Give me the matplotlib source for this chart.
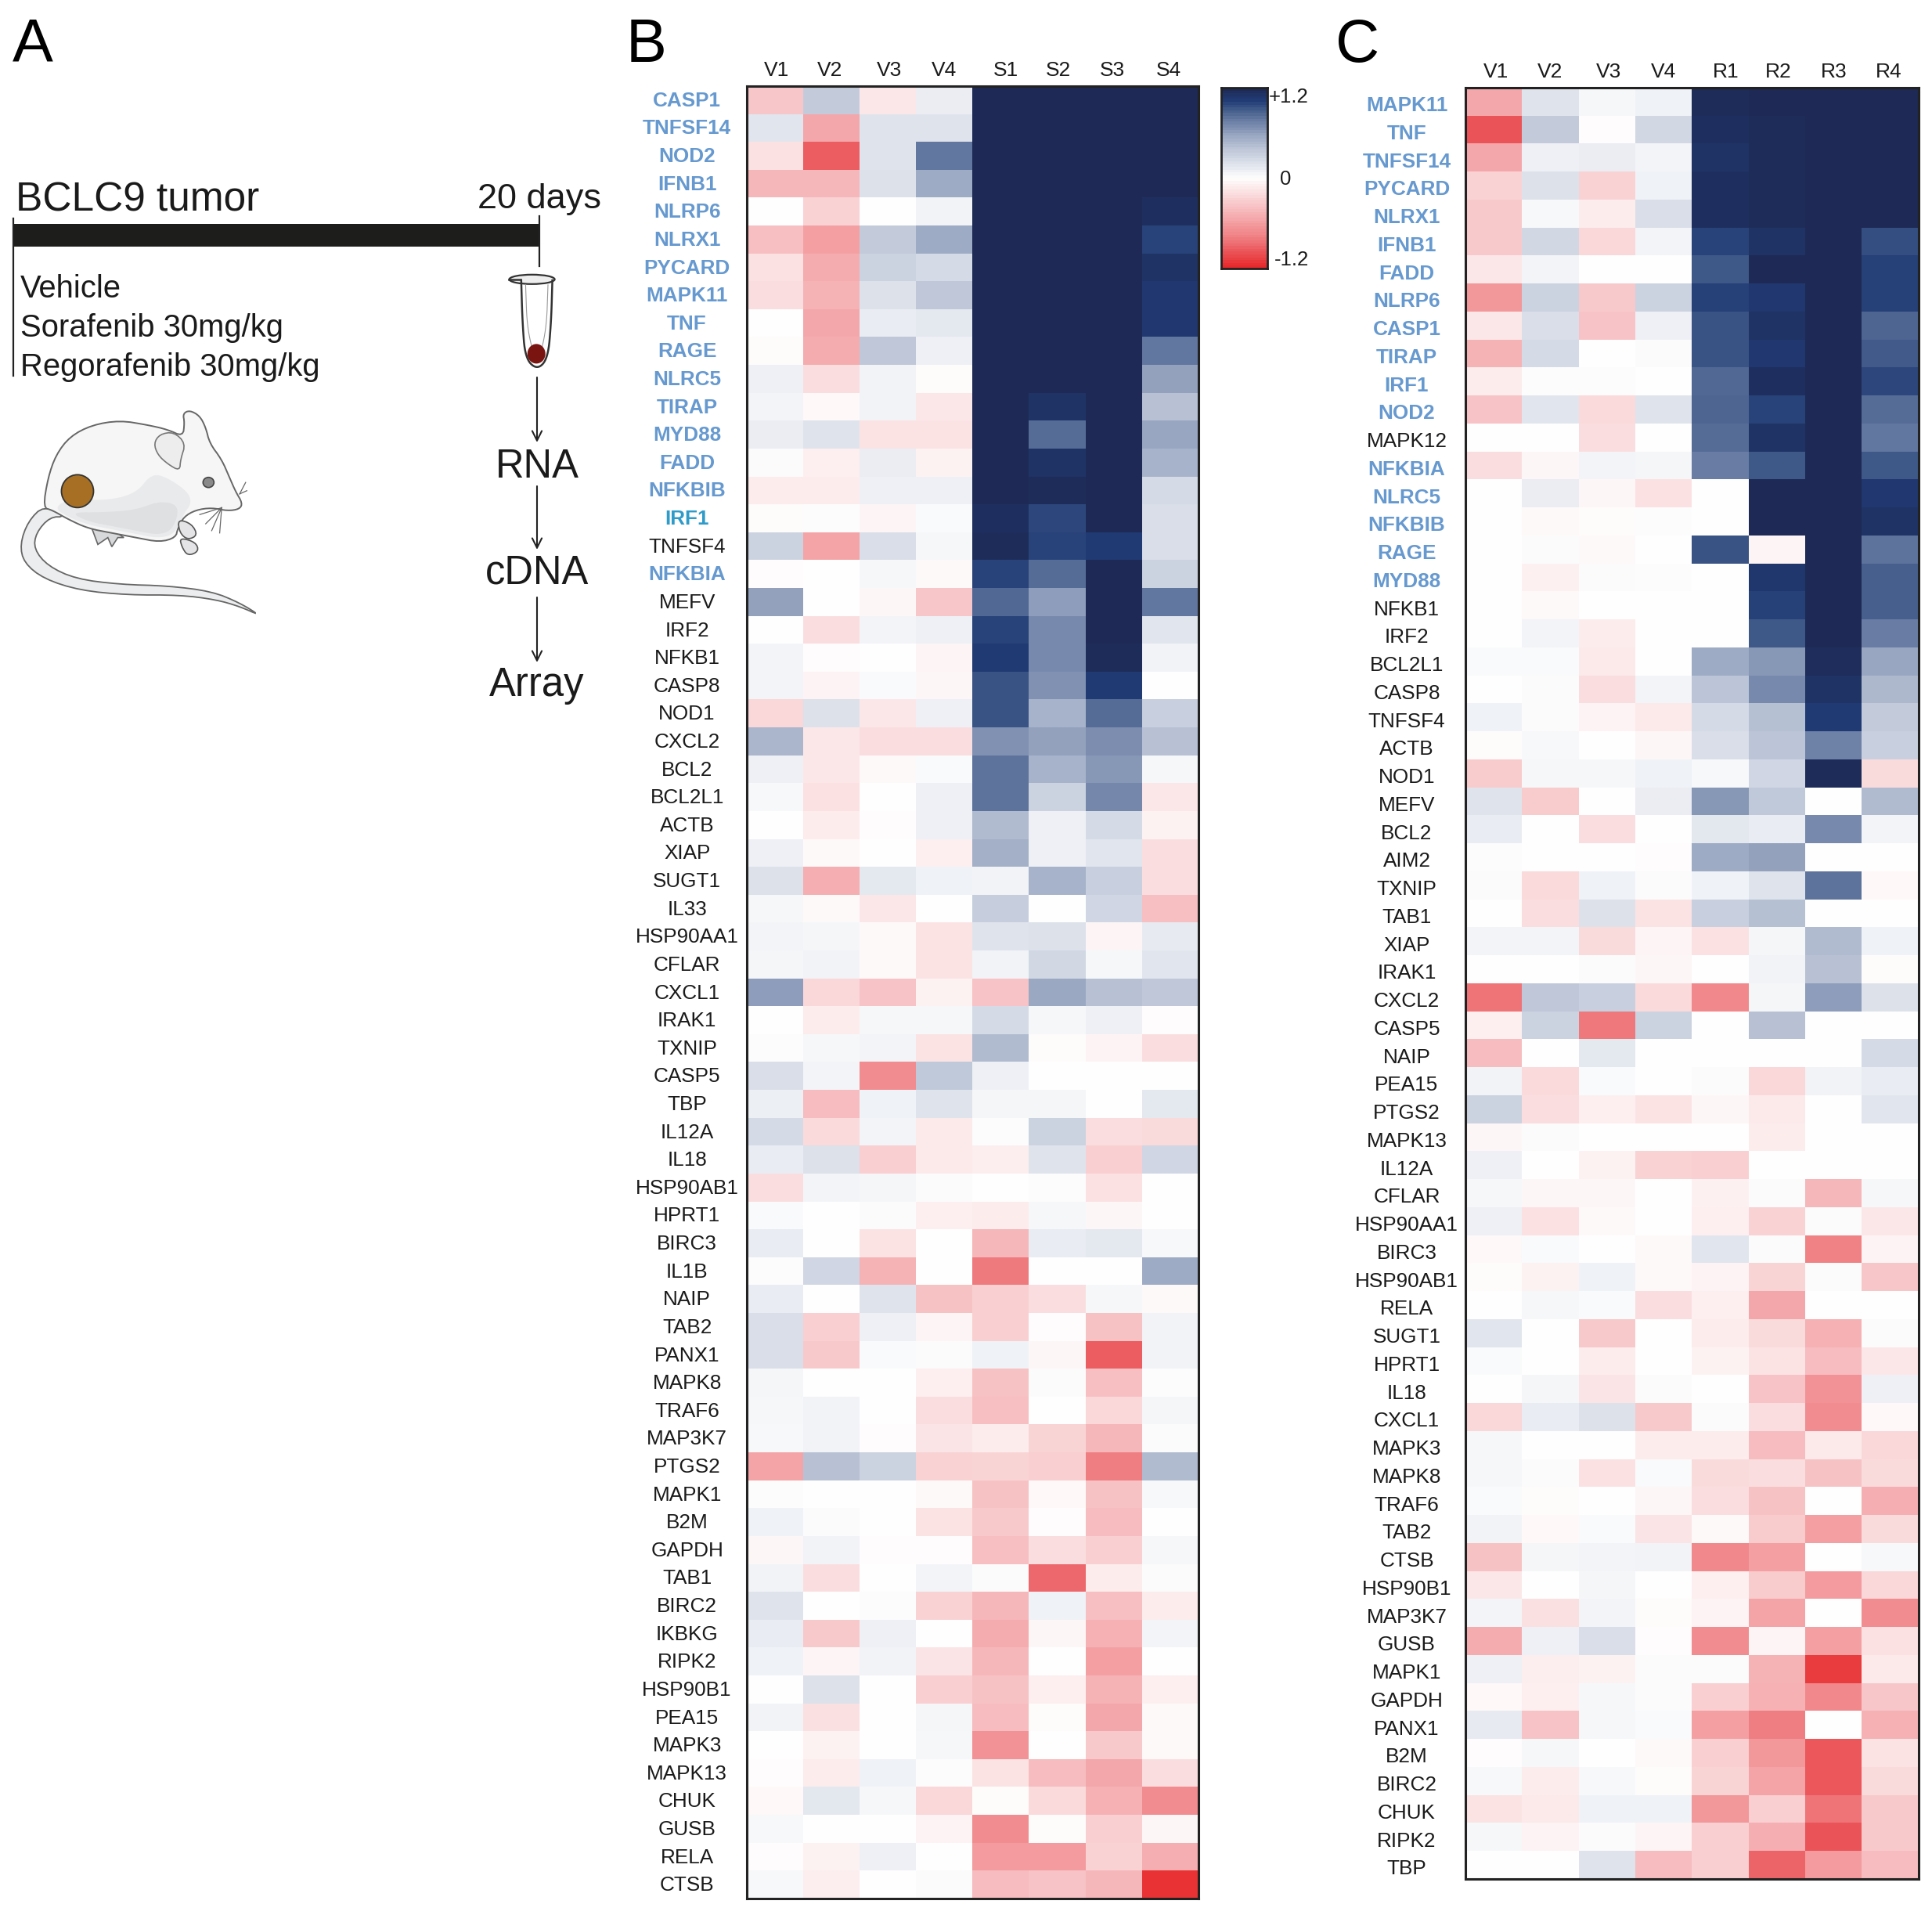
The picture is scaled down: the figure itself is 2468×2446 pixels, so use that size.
import numpy as np
import matplotlib
matplotlib.use('Agg')
import matplotlib.pyplot as plt
from matplotlib.colors import LinearSegmentedColormap
from matplotlib.patches import Polygon, Ellipse, Rectangle

plt.rcParams['font.family'] = ['Liberation Sans', 'DejaVu Sans']

W, H = 2468, 2446

columns_b = ['V1', 'V2', 'V3', 'V4', 'S1', 'S2', 'S3', 'S4']
columns_c = ['V1', 'V2', 'V3', 'V4', 'R1', 'R2', 'R3', 'R4']

genes_b = ['CASP1', 'TNFSF14', 'NOD2', 'IFNB1', 'NLRP6', 'NLRX1', 'PYCARD', 'MAPK11', 'TNF', 'RAGE',
           'NLRC5', 'TIRAP', 'MYD88', 'FADD', 'NFKBIB', 'IRF1', 'TNFSF4', 'NFKBIA', 'MEFV', 'IRF2',
           'NFKB1', 'CASP8', 'NOD1', 'CXCL2', 'BCL2', 'BCL2L1', 'ACTB', 'XIAP', 'SUGT1', 'IL33',
           'HSP90AA1', 'CFLAR', 'CXCL1', 'IRAK1', 'TXNIP', 'CASP5', 'TBP', 'IL12A', 'IL18', 'HSP90AB1',
           'HPRT1', 'BIRC3', 'IL1B', 'NAIP', 'TAB2', 'PANX1', 'MAPK8', 'TRAF6', 'MAP3K7', 'PTGS2',
           'MAPK1', 'B2M', 'GAPDH', 'TAB1', 'BIRC2', 'IKBKG', 'RIPK2', 'HSP90B1', 'PEA15', 'MAPK3',
           'MAPK13', 'CHUK', 'GUSB', 'RELA', 'CTSB']

values_b = [
    [-0.35, 0.35, -0.15, 0.12, 1.2, 1.2, 1.2, 1.2],
    [0.17, -0.55, 0.18, 0.18, 1.2, 1.2, 1.2, 1.2],
    [-0.18, -0.95, 0.18, 0.8, 1.2, 1.2, 1.2, 1.2],
    [-0.45, -0.45, 0.2, 0.55, 1.2, 1.2, 1.2, 1.2],
    [0, -0.28, 0, 0.08, 1.2, 1.2, 1.2, 1.15],
    [-0.4, -0.6, 0.35, 0.55, 1.2, 1.2, 1.2, 1.02],
    [-0.18, -0.52, 0.3, 0.25, 1.2, 1.2, 1.2, 1.12],
    [-0.2, -0.47, 0.2, 0.38, 1.2, 1.2, 1.2, 1.07],
    [0, -0.55, 0.13, 0.15, 1.2, 1.2, 1.2, 1.07],
    [-0.02, -0.52, 0.38, 0.1, 1.2, 1.2, 1.2, 0.8],
    [0.1, -0.2, 0.08, -0.02, 1.2, 1.2, 1.2, 0.6],
    [0.07, -0.04, 0.08, -0.15, 1.2, 1.12, 1.2, 0.42],
    [0.12, 0.18, -0.17, -0.17, 1.2, 0.85, 1.2, 0.58],
    [0.02, -0.1, 0.12, -0.08, 1.2, 1.12, 1.2, 0.5],
    [-0.12, -0.12, 0.1, 0.1, 1.2, 1.18, 1.2, 0.25],
    [-0.02, 0.01, -0.06, 0.03, 1.15, 1.0, 1.2, 0.22],
    [0.3, -0.58, 0.22, 0.05, 1.18, 1.02, 1.05, 0.22],
    [-0.01, 0, 0.05, -0.03, 1.02, 0.85, 1.2, 0.3],
    [0.6, 0, -0.05, -0.35, 0.87, 0.62, 1.2, 0.8],
    [0, -0.2, 0.07, 0.1, 1.02, 0.72, 1.2, 0.17],
    [0.07, -0.01, 0, -0.06, 1.05, 0.72, 1.18, 0.08],
    [0.07, -0.07, 0.03, -0.05, 0.95, 0.68, 1.05, 0],
    [-0.25, 0.2, -0.15, 0.1, 0.95, 0.5, 0.85, 0.32],
    [0.48, -0.15, -0.2, -0.2, 0.68, 0.6, 0.7, 0.42],
    [0.1, -0.15, -0.03, 0.03, 0.82, 0.5, 0.65, 0.05],
    [0.04, -0.18, 0, 0.1, 0.82, 0.3, 0.73, -0.15],
    [0, -0.12, -0.01, 0.1, 0.45, 0.1, 0.25, -0.08],
    [0.1, -0.03, 0, -0.1, 0.52, 0.1, 0.17, -0.2],
    [0.2, -0.5, 0.15, 0.09, 0.08, 0.5, 0.32, -0.2],
    [0.05, -0.03, -0.15, 0, 0.33, 0, 0.28, -0.4],
    [0.07, 0.06, -0.03, -0.17, 0.18, 0.2, -0.06, 0.14],
    [0.06, 0.08, -0.03, -0.17, 0.08, 0.27, 0.05, 0.17],
    [0.62, -0.25, -0.37, -0.08, -0.37, 0.57, 0.42, 0.38],
    [0, -0.12, 0.05, 0.05, 0.25, 0.05, 0.1, -0.01],
    [0.01, 0.05, 0.07, -0.17, 0.45, -0.02, -0.07, -0.2],
    [0.22, 0.07, -0.72, 0.37, 0.1, 0, 0, 0],
    [0.11, -0.42, 0.09, 0.18, 0.06, 0.06, 0, 0.15],
    [0.25, -0.23, 0.07, -0.13, 0.01, 0.3, -0.2, -0.22],
    [0.13, 0.2, -0.3, -0.13, -0.11, 0.18, -0.3, 0.28],
    [-0.2, 0.07, 0.06, 0.02, 0, 0.01, -0.18, 0],
    [0.03, 0, 0.02, -0.1, -0.12, 0.05, -0.05, 0],
    [0.13, 0, -0.17, 0, -0.45, 0.13, 0.15, 0.04],
    [0.01, 0.28, -0.47, 0, -0.82, 0, 0, 0.55],
    [0.13, 0, 0.18, -0.38, -0.3, -0.2, 0.05, -0.03],
    [0.22, -0.3, 0.1, -0.06, -0.3, -0.01, -0.38, 0.08],
    [0.22, -0.33, 0.03, 0.02, 0.09, -0.05, -0.95, 0.08],
    [0.06, 0, 0, -0.1, -0.38, 0.02, -0.4, 0.01],
    [0.05, 0.08, 0, -0.2, -0.4, 0, -0.25, 0.06],
    [0.04, 0.08, -0.01, -0.16, -0.12, -0.27, -0.45, 0.02],
    [-0.58, 0.42, 0.3, -0.28, -0.27, -0.3, -0.8, 0.45],
    [0.01, 0, 0, -0.03, -0.38, -0.04, -0.38, 0.04],
    [0.09, 0.02, 0, -0.17, -0.33, -0.01, -0.42, 0],
    [-0.05, 0.08, -0.01, -0.01, -0.4, -0.2, -0.3, 0.05],
    [0.08, -0.2, 0, 0.07, 0.02, -0.9, -0.12, 0.02],
    [0.18, 0, 0.01, -0.28, -0.45, 0.09, -0.4, -0.12],
    [0.13, -0.33, 0.1, 0, -0.52, -0.05, -0.48, 0.07],
    [0.09, -0.06, 0.08, -0.16, -0.45, 0, -0.6, 0],
    [0, 0.2, 0, -0.3, -0.38, -0.1, -0.47, -0.1],
    [0.08, -0.19, 0, 0.06, -0.42, -0.02, -0.55, -0.03],
    [0, -0.08, 0, 0.05, -0.68, 0, -0.33, -0.03],
    [-0.01, -0.12, 0.09, 0.01, -0.17, -0.42, -0.55, -0.2],
    [-0.04, 0.16, 0.05, -0.25, -0.02, -0.23, -0.48, -0.72],
    [0.04, 0, 0, -0.07, -0.72, -0.02, -0.3, -0.05],
    [-0.01, -0.08, 0.1, 0, -0.62, -0.62, -0.28, -0.5],
    [0.04, -0.11, 0, 0.02, -0.42, -0.37, -0.45, -1.15],
]

genes_c = ['MAPK11', 'TNF', 'TNFSF14', 'PYCARD', 'NLRX1', 'IFNB1', 'FADD', 'NLRP6', 'CASP1', 'TIRAP',
           'IRF1', 'NOD2', 'MAPK12', 'NFKBIA', 'NLRC5', 'NFKBIB', 'RAGE', 'MYD88', 'NFKB1', 'IRF2',
           'BCL2L1', 'CASP8', 'TNFSF4', 'ACTB', 'NOD1', 'MEFV', 'BCL2', 'AIM2', 'TXNIP', 'TAB1',
           'XIAP', 'IRAK1', 'CXCL2', 'CASP5', 'NAIP', 'PEA15', 'PTGS2', 'MAPK13', 'IL12A', 'CFLAR',
           'HSP90AA1', 'BIRC3', 'HSP90AB1', 'RELA', 'SUGT1', 'HPRT1', 'IL18', 'CXCL1', 'MAPK3', 'MAPK8',
           'TRAF6', 'TAB2', 'CTSB', 'HSP90B1', 'MAP3K7', 'GUSB', 'MAPK1', 'GAPDH', 'PANX1', 'B2M',
           'BIRC2', 'CHUK', 'RIPK2', 'TBP']

values_c = [
    [-0.55, 0.18, 0.05, 0.09, 1.18, 1.2, 1.2, 1.2],
    [-1.0, 0.35, -0.01, 0.27, 1.15, 1.18, 1.2, 1.2],
    [-0.55, 0.1, 0.12, 0.07, 1.12, 1.18, 1.2, 1.2],
    [-0.28, 0.2, -0.28, 0.09, 1.15, 1.18, 1.2, 1.2],
    [-0.33, 0.04, -0.12, 0.22, 1.15, 1.18, 1.2, 1.2],
    [-0.33, 0.27, -0.25, 0.07, 1.02, 1.12, 1.2, 0.97],
    [-0.15, 0.07, 0, 0, 0.93, 1.2, 1.2, 1.03],
    [-0.65, 0.3, -0.33, 0.3, 1.03, 1.07, 1.2, 1.03],
    [-0.15, 0.22, -0.37, 0.1, 0.95, 1.12, 1.2, 0.88],
    [-0.47, 0.25, 0, 0.02, 0.95, 1.07, 1.2, 0.92],
    [-0.12, 0.01, 0.01, 0, 0.87, 1.15, 1.2, 1.0],
    [-0.37, 0.17, -0.23, 0.18, 0.88, 1.02, 1.2, 0.85],
    [0, 0, -0.2, 0, 0.85, 1.12, 1.2, 0.8],
    [-0.2, -0.05, 0.07, 0.06, 0.77, 0.93, 1.2, 0.93],
    [0, 0.12, -0.05, -0.18, 0, 1.2, 1.2, 1.07],
    [0, -0.03, -0.02, 0.01, 0, 1.2, 1.2, 1.12],
    [0, 0.02, -0.03, 0, 0.95, -0.06, 1.2, 0.82],
    [0, -0.09, 0.02, 0.01, 0, 1.08, 1.2, 0.9],
    [0, -0.03, 0, 0, 0, 1.03, 1.2, 0.9],
    [0, 0.07, -0.12, 0, 0, 0.93, 1.2, 0.77],
    [0.03, 0.03, -0.13, 0, 0.55, 0.65, 1.17, 0.58],
    [0, 0.02, -0.2, 0.07, 0.4, 0.72, 1.12, 0.47],
    [0.09, 0.02, -0.07, -0.14, 0.25, 0.43, 1.05, 0.35],
    [-0.02, 0.04, 0, -0.05, 0.22, 0.4, 0.75, 0.32],
    [-0.32, 0.05, 0.05, 0.09, 0.04, 0.28, 1.18, -0.22],
    [0.18, -0.32, 0, 0.12, 0.65, 0.37, 0, 0.45],
    [0.13, 0, -0.2, 0, 0.16, 0.13, 0.72, 0.07],
    [0.01, 0, 0, -0.01, 0.55, 0.6, 0, 0],
    [0.02, -0.23, 0.09, 0.02, 0.09, 0.18, 0.82, -0.04],
    [0, -0.2, 0.2, -0.17, 0.32, 0.43, 0, 0],
    [0.07, 0.07, -0.22, -0.06, -0.18, 0.06, 0.45, 0.09],
    [0, 0, 0.02, -0.05, 0, 0.08, 0.42, -0.02],
    [-0.85, 0.38, 0.32, -0.23, -0.75, 0.06, 0.62, 0.2],
    [-0.1, 0.3, -0.83, 0.3, 0, 0.42, 0, 0],
    [-0.42, 0, 0.15, 0, 0, 0, 0, 0.25],
    [0.08, -0.23, 0.03, 0, 0.02, -0.25, 0.08, 0.13],
    [0.3, -0.2, -0.1, -0.17, -0.05, -0.13, 0, 0.17],
    [-0.05, 0.02, 0, 0, 0, -0.12, 0, 0],
    [0.1, 0, -0.08, -0.28, -0.3, 0, 0, 0],
    [0.05, -0.05, -0.05, 0, -0.09, 0.02, -0.45, 0.05],
    [0.1, -0.18, -0.03, 0, -0.1, -0.28, 0.02, -0.15],
    [-0.04, 0.03, 0, -0.03, 0.17, 0.02, -0.78, -0.07],
    [-0.02, -0.08, 0.09, -0.03, -0.07, -0.27, 0.02, -0.35],
    [0, 0.05, 0.03, -0.2, -0.1, -0.55, 0, 0],
    [0.17, 0, -0.33, 0, -0.12, -0.22, -0.48, 0.02],
    [0.03, 0, -0.12, 0, -0.08, -0.17, -0.42, -0.15],
    [0, 0.06, -0.16, 0.02, 0, -0.37, -0.68, 0.1],
    [-0.25, 0.13, 0.2, -0.33, 0.02, -0.2, -0.72, -0.04],
    [0.05, 0, 0, -0.12, -0.12, -0.42, -0.13, -0.25],
    [0.05, 0.02, -0.18, 0.03, -0.22, -0.2, -0.38, -0.22],
    [0.03, -0.02, 0, -0.05, -0.2, -0.38, 0, -0.5],
    [0.08, -0.04, 0.03, -0.16, -0.03, -0.32, -0.6, -0.22],
    [-0.38, 0.06, 0.07, 0.08, -0.75, -0.6, 0, 0.04],
    [-0.15, 0, 0.06, 0, -0.1, -0.32, -0.62, -0.25],
    [0.07, -0.19, 0.07, -0.02, -0.07, -0.57, 0, -0.72],
    [-0.52, 0.1, 0.22, -0.01, -0.72, -0.06, -0.6, -0.18],
    [0.1, -0.11, -0.08, 0.02, 0.02, -0.47, -1.1, -0.13],
    [-0.04, -0.1, 0.05, 0.02, -0.3, -0.48, -0.75, -0.35],
    [0.14, -0.37, 0.05, 0.03, -0.6, -0.8, 0, -0.48],
    [-0.01, 0.05, 0, -0.03, -0.3, -0.65, -0.98, -0.17],
    [0.04, -0.12, 0.04, -0.02, -0.27, -0.58, -0.98, -0.22],
    [-0.17, -0.14, 0.09, 0.09, -0.65, -0.3, -0.85, -0.33],
    [0.05, -0.07, 0.02, -0.06, -0.3, -0.5, -1.0, -0.33],
    [0, 0, 0.18, -0.42, -0.3, -0.92, -0.62, -0.42],
]

# genes written in blue next to each heatmap
blue_b = genes_b[:15] + ['NFKBIA']
blue_c = genes_c[:12] + ['NFKBIA', 'NLRC5', 'NFKBIB', 'RAGE', 'MYD88']

stops = [(-1.2, '#E8282A'), (-1.0, '#EB5458'), (-0.8, '#F08084'), (-0.6, '#F4A0A3'),
         (-0.4, '#F7BFC2'), (-0.2, '#FBDFE0'), (0, '#FFFFFF'), (0.2, '#DDE2EB'),
         (0.4, '#BCC5D7'), (0.6, '#95A3BF'), (0.8, '#6479A1'), (0.95, '#3B5585'),
         (1.05, '#213C75'), (1.2, '#1E2A55')]
cmap = LinearSegmentedColormap.from_list('rwb', [((v + 1.2) / 2.4, c) for v, c in stops])


def px_axes(fig, x0, y0, x1, y1):
    return fig.add_axes([x0 / W, 1 - y1 / H, (x1 - x0) / W, (y1 - y0) / H])


def heatmap(fig, box, values, genes, columns, blue, pad, col_shift, row_shift):
    ax = px_axes(fig, *box)
    ax.imshow(np.array(values), cmap=cmap, vmin=-1.2, vmax=1.2, aspect='auto', interpolation='nearest')
    ax.set_xticks(np.arange(len(columns)) + np.array(col_shift))
    ax.set_xticklabels(columns, fontsize=19)
    ax.xaxis.tick_top()
    ax.set_yticks(np.arange(len(genes)) + row_shift)
    ax.set_yticklabels(genes, fontsize=18.8)
    ax.tick_params(length=0)
    ax.tick_params(axis='x', pad=6, colors='#1a1a1a')
    ax.tick_params(axis='y', pad=pad, colors='#1a1a1a')
    for lab in ax.get_yticklabels():
        lab.set_ha('center')
        if lab.get_text() in blue:
            lab.set_color('#6699CF')
            lab.set_fontweight('bold')
        if lab.get_text() == 'IRF1' and genes is genes_b:
            lab.set_color('#2F9BC9')
            lab.set_fontweight('bold')
    for s in ax.spines.values():
        s.set_linewidth(2.2)
        s.set_color('#222222')
    return ax


def smooth(points, n=3, closed=True):
    # corner cutting so the hand placed outlines do not look faceted
    pts = np.array(points, dtype=float)
    for _ in range(n):
        if closed:
            nxt = np.roll(pts, -1, axis=0)
            pts = np.column_stack([0.75 * pts + 0.25 * nxt, 0.25 * pts + 0.75 * nxt]).reshape(-1, 2)
        else:
            a, b = pts[:-1], pts[1:]
            mid = np.column_stack([0.75 * a + 0.25 * b, 0.25 * a + 0.75 * b]).reshape(-1, 2)
            pts = np.vstack([pts[0], mid, pts[-1]])
    return pts


def z(points):
    return [(x / 1.96, y / 1.704) for x, y in points]


fig = plt.figure(figsize=(W / 100, H / 100), dpi=100, facecolor='white')

heatmap(fig, (954, 110, 1531, 2425), values_b, genes_b, columns_b, blue_b, 55,
        [0.03, -0.03, 0.03, 0, 0.09, 0.02, -0.03, -0.03], -0.04)
heatmap(fig, (1872, 112, 2451, 2400), values_c, genes_c, columns_c, blue_c, 54,
        [0.04, -0.01, 0.03, 0, 0.1, 0.02, 0, -0.03], 0.08)

# colour key
cb = px_axes(fig, 1560, 112, 1619, 343)
cb.imshow(np.linspace(1.2, -1.2, 64).reshape(-1, 1), cmap=cmap, vmin=-1.2, vmax=1.2, aspect='auto',
          interpolation='nearest')
cb.set_xticks([])
cb.set_yticks([])
for s in cb.spines.values():
    s.set_linewidth(2)
    s.set_color('#222222')

# overlay in pixel coordinates for panel A and the loose text
ov = fig.add_axes([0, 0, 1, 1], zorder=-1)
ov.set_xlim(0, W)
ov.set_ylim(H, 0)
ov.axis('off')

fig.text(1621 / W, 1 - 124 / H, '+1.2', fontsize=18.5, va='center', color='#1a1a1a')
fig.text(1642 / W, 1 - 229 / H, '0', fontsize=18.5, va='center', ha='center', color='#1a1a1a')
fig.text(1628 / W, 1 - 332 / H, '-1.2', fontsize=18.5, va='center', color='#1a1a1a')

for letter, x in [('A', 16), ('B', 800), ('C', 1706)]:
    ov.text(x, 79, letter, fontsize=56, va='baseline', color='black')

ov.text(20, 269, 'BCLC9 tumor', fontsize=37, va='baseline', color='#1a1a1a')
ov.text(610, 266, '20 days', fontsize=32.5, va='baseline', color='#1a1a1a')
for txt, y in [('Vehicle', 380), ('Sorafenib 30mg/kg', 430), ('Regorafenib 30mg/kg', 480)]:
    ov.text(26, y, txt, fontsize=28.8, va='baseline', color='#1a1a1a')
for txt, y in [('RNA', 610), ('cDNA', 745), ('Array', 889)]:
    ov.text(686, y, txt, fontsize=36.5, va='baseline', ha='center', color='#1a1a1a')

# timeline bar
ov.add_patch(Rectangle((17, 286), 672, 29, color='#1D1D1B', lw=0))
ov.plot([17, 17], [279, 480], color='#222222', lw=1.6)
ov.plot([689, 689], [276, 340], color='#222222', lw=1.6)

for y0, y1 in [(482, 565), (621, 702), (763, 846)]:
    ov.annotate('', xy=(686, y1), xytext=(686, y0),
                arrowprops=dict(arrowstyle='->', color='#222222', lw=1.5, mutation_scale=22,
                                shrinkA=0, shrinkB=0))

# tube
tube = z([(1305, 610), (1308, 700), (1315, 780), (1345, 805), (1372, 780), (1380, 700), (1383, 610)])
ov.plot(*np.array(smooth(tube, 3, closed=False)).T, color='#333333', lw=1.8)
inner = z([(1316, 620), (1320, 720), (1345, 795), (1368, 720), (1372, 620)])
ov.plot(*np.array(smooth(inner, 3, closed=False)).T, color='#999999', lw=0.8)
ov.add_patch(Ellipse((1332 / 1.96, 608 / 1.704), 58, 12, fc='#eeeeee', ec='#333333', lw=1.6))
ov.plot([650, 665], [357, 357], color='#333333', lw=1.8)
ov.add_patch(Ellipse((1343 / 1.96, 770 / 1.704), 23, 25, fc='#7A1410', ec='none', zorder=4))

# mouse
tail = z([(110, 1100), (70, 1135), (50, 1185), (60, 1225), (110, 1260), (200, 1285), (320, 1295),
          (450, 1295), (540, 1305), (600, 1320), (652, 1340), (600, 1312), (530, 1287), (420, 1275),
          (300, 1272), (190, 1260), (120, 1232), (85, 1195), (90, 1160), (125, 1125), (165, 1125)])
ov.add_patch(Polygon(smooth(tail, 2), fc='#ECEDEE', ec='#666666', lw=1.3))

hind = z([(230, 1150), (245, 1185), (270, 1170), (280, 1190), (295, 1170), (310, 1170), (285, 1155)])
ov.add_patch(Polygon(hind, fc='#D8D9DB', ec='#666666', lw=1.2))

body = z([(108, 1105), (120, 1040), (140, 990), (175, 950), (230, 925), (300, 915), (370, 925),
          (420, 935), (458, 950), (462, 920), (458, 900), (475, 893), (500, 905), (515, 930),
          (525, 965), (555, 1000), (575, 1040), (590, 1070), (607, 1095), (600, 1108), (570, 1112),
          (530, 1105), (490, 1110), (460, 1125), (445, 1150), (440, 1170), (400, 1180), (340, 1170),
          (280, 1160), (220, 1150), (170, 1130), (130, 1110)])
ov.add_patch(Polygon(smooth(body, 2), fc='#F6F6F7', ec='#666666', lw=1.4))

# soft shading under the belly, built up in thin layers
shade = z([(135, 1105), (175, 1085), (260, 1090), (340, 1075), (380, 1030), (420, 1040), (470, 1070),
           (480, 1095), (460, 1118), (440, 1160), (400, 1172), (340, 1162), (280, 1152), (220, 1142),
           (170, 1125)])
ov.add_patch(Polygon(smooth(shade, 3), fc='#E9EAEB', ec='none'))
shade2 = z([(175, 1115), (260, 1115), (340, 1110), (400, 1090), (450, 1100), (435, 1150), (400, 1165),
            (340, 1155), (280, 1145), (220, 1135)])
ov.add_patch(Polygon(smooth(shade2, 3), fc='#DFE0E2', ec='none'))

ear = z([(385, 965), (400, 945), (435, 940), (465, 965), (452, 1000), (450, 1025), (420, 1010), (395, 990)])
ov.add_patch(Polygon(smooth(ear, 2), fc='#EDEDEE', ec='#777777', lw=1.2))

foot = z([(445, 1130), (480, 1140), (495, 1165), (470, 1175), (450, 1160)])
ov.add_patch(Polygon(smooth(foot, 2), fc='#E4E4E6', ec='#555555', lw=1.2))
foot2 = z([(450, 1170), (490, 1180), (498, 1200), (470, 1210), (455, 1190)])
ov.add_patch(Polygon(smooth(foot2, 2), fc='#E4E4E6', ec='#555555', lw=1.2))

whiskers = [[(555, 1105), (500, 1120)], [(555, 1105), (515, 1140)], [(555, 1105), (530, 1155)],
            [(555, 1105), (550, 1160)], [(600, 1075), (615, 1050)], [(600, 1075), (618, 1068)]]
for w in whiskers:
    ov.plot(*np.array(z(w)).T, color='#666666', lw=0.9)

ov.add_patch(Ellipse((522 / 1.96, 1050 / 1.704), 14, 13, fc='#8A8A8A', ec='#444444', lw=1.2))
ov.add_patch(Ellipse((194 / 1.96, 1069 / 1.704), 41, 42, fc='#A66F24', ec='#333333', lw=1.3))

fig.savefig('out.png', dpi=100, facecolor='white')
